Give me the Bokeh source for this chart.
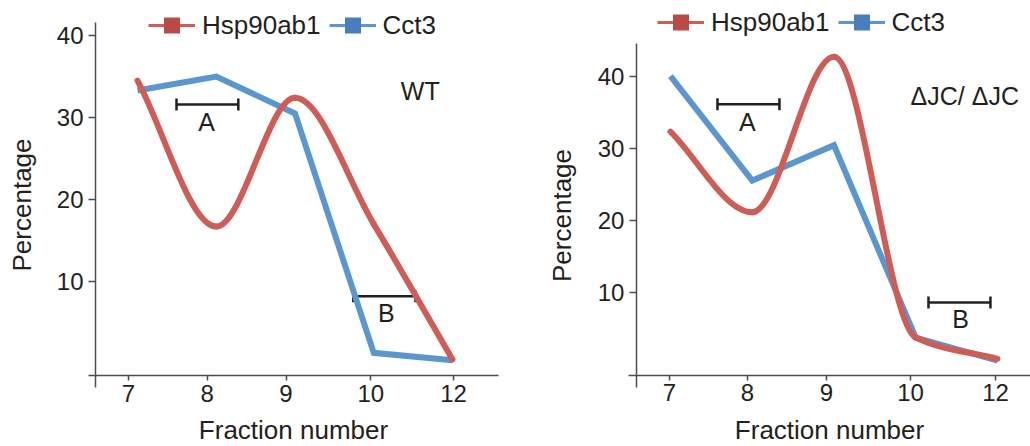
import numpy as np
from bokeh.plotting import figure
from bokeh.layouts import row
from bokeh.models import (ColumnDataSource, FixedTicker, Legend, LegendItem,
                          Whisker, TeeHead)
from bokeh.core.properties import value
from bokeh.embed import file_html
from bokeh.resources import INLINE

# ---------------- data ----------------
FRACTIONS = ["7", "8", "9", "10", "12"]
WT_HSP90AB1 = [34.5, 16.7, 32.4, 17.0, 0.5]
WT_CCT3 = [33.3, 35.0, 30.5, 1.3, 0.4]
DJC_HSP90AB1 = [32.3, 21.1, 42.7, 3.7, 0.75]
DJC_CCT3 = [40.0, 25.5, 30.4, 3.7, 0.5]
Y_TICKS = [10, 20, 30, 40]
SERIES_NAMES = ["Hsp90ab1", "Cct3"]
PANEL_LABELS = ["WT", "ΔJC/ ΔJC"]
RANGE_LABELS = ["A", "B"]
# where the original figure puts its fraction tick marks (slightly off the points)
X_TICK_POS_WT = [-0.114, 0.886, 1.886, 2.962, 4.013]
X_TICK_POS_DJC = [-0.012, 0.942, 1.908, 2.936, 3.976]

# ---------------- styles ----------------
FONT = "Liberation Sans"
TXT = "#231f20"
AXC = "#4d4d4f"
RED = "#cd5d56"
BLUE = "#5b97cf"
RED_SQ = "#b84a47"
BLUE_SQ = "#4a7dbd"


def monotone_bezier(xs, ys):
    """Monotone (Fritsch-Carlson) cubic through the points, as bezier segments."""
    xs = np.asarray(xs, float)
    ys = np.asarray(ys, float)
    h = np.diff(xs)
    d = np.diff(ys) / h
    n = len(xs)
    m = np.zeros(n)
    m[0], m[-1] = d[0], d[-1]
    for i in range(1, n - 1):
        if d[i - 1] * d[i] <= 0:
            m[i] = 0.0
        else:
            m[i] = 2.0 / (1.0 / d[i - 1] + 1.0 / d[i])
    return dict(x0=xs[:-1], y0=ys[:-1], x1=xs[1:], y1=ys[1:],
                cx0=xs[:-1] + h / 3, cy0=ys[:-1] + m[:-1] * h / 3,
                cx1=xs[1:] - h / 3, cy1=ys[1:] - m[1:] * h / 3)


def panel(hsp, cct, panel_label, label_pos, brackets, letters, tick_pos,
          width, x_range, y_range, yaxis_x, yaxis_bounds, xaxis_y,
          xaxis_bounds, ylabel_standoff, legend_loc):
    p = figure(width=width, height=446, x_range=x_range, y_range=y_range,
               output_backend="svg", toolbar_location=None,
               min_border=0, min_border_left=0, min_border_right=0,
               min_border_top=0, min_border_bottom=0,
               background_fill_color="white", border_fill_color="white")
    p.outline_line_color = None
    p.grid.visible = False

    xs = list(range(len(FRACTIONS)))

    # Cct3: straight segments
    p.line(xs, cct, line_color=BLUE, line_width=6, line_join="miter",
           line_cap="butt")
    # Hsp90ab1: smooth curve through the points
    bz = ColumnDataSource(monotone_bezier(xs, hsp))
    p.bezier(x0="x0", y0="y0", x1="x1", y1="y1", cx0="cx0", cy0="cy0",
             cx1="cx1", cy1="cy1", source=bz, line_color=RED, line_width=6,
             line_cap="round")

    # range brackets
    bsrc = ColumnDataSource(dict(y=[b[2] for b in brackets],
                                 lo=[b[0] for b in brackets],
                                 hi=[b[1] for b in brackets]))
    wh = Whisker(source=bsrc, base="y", lower="lo", upper="hi",
                 dimension="width", line_color=TXT, line_width=2.5,
                 lower_head=TeeHead(size=12, line_color=TXT, line_width=2.5),
                 upper_head=TeeHead(size=12, line_color=TXT, line_width=2.5))
    p.add_layout(wh)

    p.text(x=[l[0] for l in letters], y=[l[1] for l in letters],
           text=RANGE_LABELS, text_align="center", text_baseline="middle",
           text_font=value(FONT), text_font_size="25px", text_color=TXT)
    p.text(x=[label_pos[0]], y=[label_pos[1]], text=[panel_label],
           text_align="center", text_baseline="middle",
           text_font=value(FONT), text_font_size="25px", text_color=TXT)

    # axes
    for ax in (p.xaxis[0], p.yaxis[0]):
        ax.axis_line_color = AXC
        ax.axis_line_width = 1.5
        ax.major_tick_line_color = AXC
        ax.major_tick_line_width = 1.5
        ax.minor_tick_line_color = None
        ax.major_tick_in = 0
        ax.major_label_text_font = FONT
        ax.major_label_text_font_size = "24px"
        ax.major_label_text_color = TXT
        ax.axis_label_text_font = FONT
        ax.axis_label_text_font_size = "26px"
        ax.axis_label_text_font_style = "normal"
        ax.axis_label_text_color = TXT

    p.xaxis.ticker = FixedTicker(ticks=tick_pos)
    p.xaxis.major_label_overrides = {t: f for t, f in zip(tick_pos, FRACTIONS)}
    p.xaxis.major_tick_out = 5
    p.xaxis.major_label_standoff = 4
    p.xaxis.axis_label = "Fraction number"
    p.xaxis.axis_label_standoff = 10
    p.xaxis.fixed_location = xaxis_y
    p.xaxis.bounds = xaxis_bounds

    p.yaxis.ticker = FixedTicker(ticks=Y_TICKS)
    p.yaxis.major_tick_out = 7
    p.yaxis.major_label_standoff = 5
    p.yaxis.axis_label = "Percentage"
    p.yaxis.axis_label_standoff = ylabel_standoff
    p.yaxis.fixed_location = yaxis_x
    p.yaxis.bounds = yaxis_bounds

    # legend (own glyph styling: thin line + square)
    items = []
    for name, lc, sc in zip(SERIES_NAMES, [RED, BLUE], [RED_SQ, BLUE_SQ]):
        src = ColumnDataSource(dict(x=[np.nan], y=[np.nan]))
        lr = p.line("x", "y", source=src, line_color=lc, line_width=3)
        sr = p.scatter("x", "y", source=src, marker="square", fill_color=sc,
                       line_color=None)
        items.append(LegendItem(label=name, renderers=[lr, sr]))
    leg = Legend(items=items, orientation="horizontal", location=legend_loc,
                 glyph_width=47, glyph_height=40, label_height=40,
                 label_standoff=7, spacing=8, padding=0, margin=0,
                 border_line_color=None, background_fill_alpha=0,
                 label_text_font=FONT, label_text_font_size="26px",
                 label_text_color=TXT)
    p.add_layout(leg, "center")
    return p


p1 = panel(WT_HSP90AB1, WT_CCT3, PANEL_LABELS[0], (3.59, 33.2),
           brackets=[(0.495, 1.28, 31.6), (2.74, 3.53, 8.2)],
           letters=[(0.876, 29.5), (3.16, 6.2)],
           tick_pos=X_TICK_POS_WT,
           width=518, x_range=(-1.740, 4.838), y_range=(-10.12, 44.27),
           yaxis_x=-0.533, yaxis_bounds=(-2.93, 41.59),
           xaxis_y=-1.463, xaxis_bounds=(-0.622, 4.584),
           ylabel_standoff=17, legend_loc=(148, 401))

p2 = panel(DJC_HSP90AB1, DJC_CCT3, PANEL_LABELS[1], (3.6, 37.3),
           brackets=[(0.575, 1.333, 36.1), (3.156, 3.914, 8.57)],
           letters=[(0.94, 33.6), (3.55, 6.3)],
           tick_pos=X_TICK_POS_DJC,
           width=512, x_range=(-1.859, 4.404), y_range=(-11.43, 50.51),
           yaxis_x=-0.416, yaxis_bounds=(-3.24, 44.54),
           xaxis_y=-1.569, xaxis_bounds=(-0.514, 4.404),
           ylabel_standoff=18, legend_loc=(139, 404))

layout = row(p1, p2)
open("out.html", "w").write(file_html(layout, INLINE))
